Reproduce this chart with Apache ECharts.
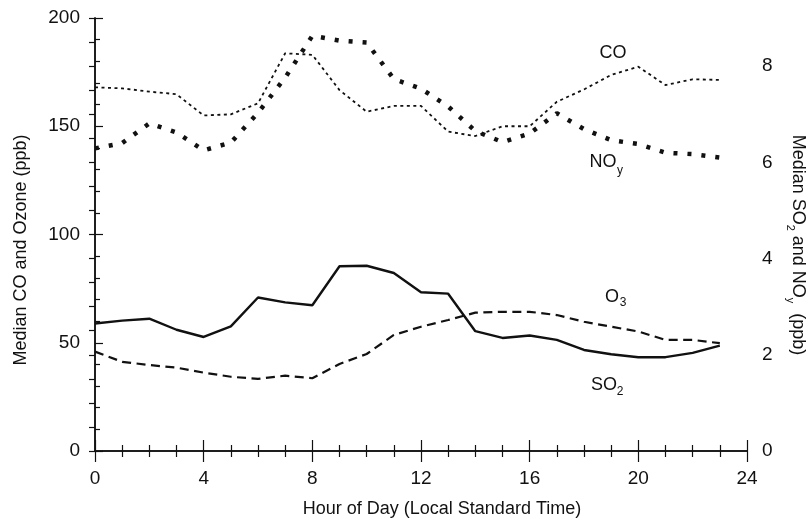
<!DOCTYPE html>
<html>
<head>
<meta charset="utf-8">
<script src="https://cdn.jsdelivr.net/npm/echarts@6/dist/echarts.min.js"></script>
<style>html,body{margin:0;padding:0;background:#fff}#c{width:807px;height:521px}</style>
</head>
<body>
<div id="c"></div>
<script>
var hours = [0,1,2,3,4,5,6,7,8,9,10,11,12,13,14,15,16,17,18,19,20,21,22,23];
var coValues  = [168,167.5,166,164.8,155,155.5,160.6,183.7,183,166.7,156.7,159.4,159.4,147.5,145.5,150,150,161.3,167,173.7,177.5,169,171.7,171.4];
var noyValues = [6.29,6.40,6.81,6.62,6.25,6.41,7.03,7.76,8.63,8.53,8.49,7.73,7.53,7.16,6.65,6.42,6.60,7.02,6.69,6.46,6.38,6.20,6.17,6.10];
var o3Values  = [45.9,41.2,39.7,38.5,36.2,34.3,33.3,34.8,33.6,40.2,44.8,53.6,57.4,60.5,63.9,64.3,64.3,62.8,59.7,57.4,55.2,51.3,51.3,49.8];
var so2Values = [2.65,2.71,2.75,2.52,2.37,2.59,3.19,3.09,3.03,3.84,3.85,3.70,3.30,3.27,2.49,2.35,2.40,2.31,2.10,2.01,1.95,1.95,2.04,2.19];
var xTicks = [0,4,8,12,16,20,24];
var leftTicks = [0,50,100,150,200];
var rightTicks = [0,2,4,6,8];

function pairs(vals){ return hours.map(function(h,i){ return [h, vals[i]]; }); }
var FONT = 'Liberation Sans';
var chart = echarts.init(document.getElementById('c'), null, {renderer:'canvas'});
var axisLine = {show:true, lineStyle:{color:'#111', width:1.5}};
chart.setOption({
  animation:false,
  backgroundColor:'#fff',
  grid:{left:95, right:60, top:18, bottom:70, containLabel:false},
  xAxis:[
    {type:'value', position:'bottom', min:0, max:24, interval:4,
     axisLine:axisLine,
     axisTick:{show:true, inside:true, length:11, lineStyle:{color:'#111', width:1.2}},
     minorTick:{show:true, splitNumber:4, length:6, lineStyle:{color:'#111', width:1.2}},
     splitLine:{show:false},
     axisLabel:{color:'#111', fontFamily:FONT, fontSize:19, margin:18,
       formatter:function(v){ return xTicks.indexOf(v)>=0 ? String(v) : ''; }}},
    {type:'value', position:'top', min:0, max:24, interval:4,
     axisLine:axisLine,
     axisTick:{show:true, inside:true, length:11, lineStyle:{color:'#111', width:1.2}},
     minorTick:{show:true, splitNumber:4, length:6, lineStyle:{color:'#111', width:1.2}},
     splitLine:{show:false}, axisLabel:{show:false}}
  ],
  yAxis:[
    {type:'value', position:'left', min:0, max:200, interval:50,
     axisLine:axisLine,
     axisTick:{show:true, inside:true, length:8, lineStyle:{color:'#111', width:1.2}},
     minorTick:{show:true, splitNumber:5, length:5, lineStyle:{color:'#111', width:1.2}},
     splitLine:{show:false},
     axisLabel:{color:'#111', fontFamily:FONT, fontSize:19, margin:15,
       formatter:function(v){ return leftTicks.indexOf(v)>=0 ? String(v) : ''; }}},
    {type:'value', position:'right', min:0, max:9, interval:0.5,
     axisLine:axisLine,
     axisTick:{show:true, inside:true, length:6, lineStyle:{color:'#111', width:1.2}},
     splitLine:{show:false},
     axisLabel:{color:'#111', fontFamily:FONT, fontSize:19, margin:15,
       formatter:function(v){ return rightTicks.indexOf(v)>=0 ? String(v) : ''; }}}
  ],
  series:[
    {name:'CO', type:'line', xAxisIndex:0, yAxisIndex:0, data:pairs(coValues), showSymbol:false, silent:true,
     lineStyle:{color:'#111', width:1.8, type:[3,3.5]}},
    {name:'NOy', type:'line', xAxisIndex:0, yAxisIndex:1, data:pairs(noyValues), showSymbol:false, silent:true,
     lineStyle:{color:'#111', width:4.5, type:[4,10], cap:'butt'}},
    {name:'O3', type:'line', xAxisIndex:0, yAxisIndex:0, data:pairs(o3Values), showSymbol:false, silent:true,
     lineStyle:{color:'#111', width:2.2, type:[9,5.5]}},
    {name:'SO2', type:'line', xAxisIndex:0, yAxisIndex:1, data:pairs(so2Values), showSymbol:false, silent:true,
     lineStyle:{color:'#111', width:2.4}}
  ],
  graphic:[
    {type:'text', x:613, y:53, style:{text:'CO', fill:'#111', font:'18px '+FONT, align:'center', verticalAlign:'middle'}},
    {type:'text', x:603, y:162, style:{text:'NO', fill:'#111', font:'18px '+FONT, align:'center', verticalAlign:'middle'}},
    {type:'text', x:620, y:171, style:{text:'y', fill:'#111', font:'12px '+FONT, align:'center', verticalAlign:'middle'}},
    {type:'text', x:612, y:297, style:{text:'O', fill:'#111', font:'18px '+FONT, align:'center', verticalAlign:'middle'}},
    {type:'text', x:623, y:303, style:{text:'3', fill:'#111', font:'12px '+FONT, align:'center', verticalAlign:'middle'}},
    {type:'text', x:604, y:385, style:{text:'SO', fill:'#111', font:'18px '+FONT, align:'center', verticalAlign:'middle'}},
    {type:'text', x:620, y:392, style:{text:'2', fill:'#111', font:'12px '+FONT, align:'center', verticalAlign:'middle'}},
    {type:'text', x:442, y:509, style:{text:'Hour of Day (Local Standard Time)', fill:'#111', font:'18px '+FONT, align:'center', verticalAlign:'middle'}},
    {type:'text', x:21, y:250, rotation:Math.PI/2, style:{text:'Median CO and Ozone (ppb)', fill:'#111', font:'18px '+FONT, align:'center', verticalAlign:'middle'}},
    {type:'text', x:798, y:245, rotation:-Math.PI/2,
     style:{text:'{m|Median SO}{s|2}{m| and NO}{s|y}{m|  (ppb)}', fill:'#111', align:'center', verticalAlign:'middle',
       rich:{m:{font:'18px '+FONT, fill:'#111', lineHeight:26}, s:{font:'11px '+FONT, fill:'#111', verticalAlign:'bottom', lineHeight:14}}}}
  ]
});
</script>
</body>
</html>
